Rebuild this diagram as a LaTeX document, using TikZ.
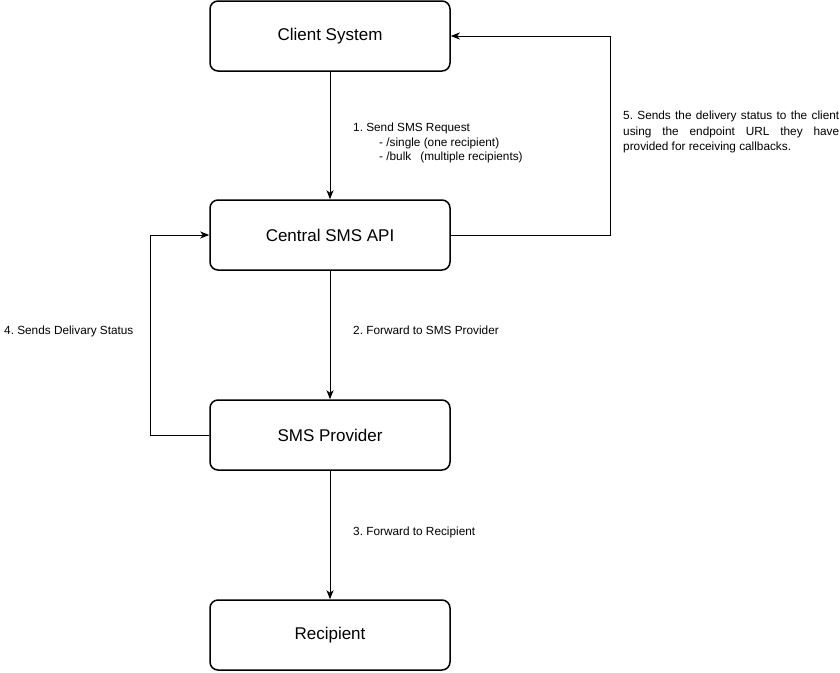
\documentclass[tikz,border=0pt]{standalone}
\usepackage{fontspec}
\setmainfont{Liberation Sans}
\usetikzlibrary{arrows.meta}
\frenchspacing
\begin{document}
\begin{tikzpicture}[x=1pt,y=-1pt,
  box/.style={draw=black,line width=1.5pt,rounded corners=8pt,fill=white,
    minimum width=240pt,minimum height=70pt,inner sep=0pt,
    font=\fontsize{17}{20}\selectfont},
  flow/.style={draw=black,line width=1pt,-{Stealth[length=9pt,width=7pt,inset=2.5pt]}},
  lbl/.style={inner sep=0pt,anchor=base west,font=\fontsize{11.8}{15.5}\selectfont}]
  \useasboundingbox (0,0) rectangle (840,672);
  % process boxes
  \node[box] (client)   at (330,36)  {Client System};
  \node[box] (api)      at (330,235) {Central SMS API};
  \node[box] (provider) at (330,435) {SMS Provider};
  \node[box] (recip)    at (330,635) {Recipient};
  % bends of the feedback loops
  \coordinate (r1) at (610,235);
  \coordinate (r2) at (610,36);
  \coordinate (l1) at (150,435);
  \coordinate (l2) at (150,235);
  % main chain
  \draw[flow] (client) -- (api);
  \draw[flow] (api) -- (provider);
  \draw[flow] (provider) -- (recip);
  % callbacks
  \draw[flow] (provider.west) -- (l1) -- (l2) -- (api.west);
  \draw[flow] (api.east) -- (r1) -- (r2) -- (client.east);
  % step labels
  \node[lbl] (t1a) at (353,131.5) {1. Send SMS Request};
  \node[lbl] (t1b) at (379,146) {- /single (one recipient)};
  \node[lbl] (t1c) at (379,160.5) {- /bulk\hspace{9pt}(multiple recipients)};
  \node[lbl] (t2) at (353,334.5) {2. Forward to SMS Provider};
  \node[lbl] (t3) at (353,535.5) {3. Forward to Recipient};
  \node[lbl] (t4) at (4,334.5) {4. Sends Delivary Status};
  \node[inner sep=0pt,anchor=north west,text width=216pt,align=justify,
    font=\fontsize{11.8}{15.5}\selectfont] (t5) at (623,111)
    {\hyphenpenalty=10000 5. Sends the delivery status to the client\linebreak
     using the endpoint URL they have\linebreak provided for receiving callbacks.};
\end{tikzpicture}
\end{document}
